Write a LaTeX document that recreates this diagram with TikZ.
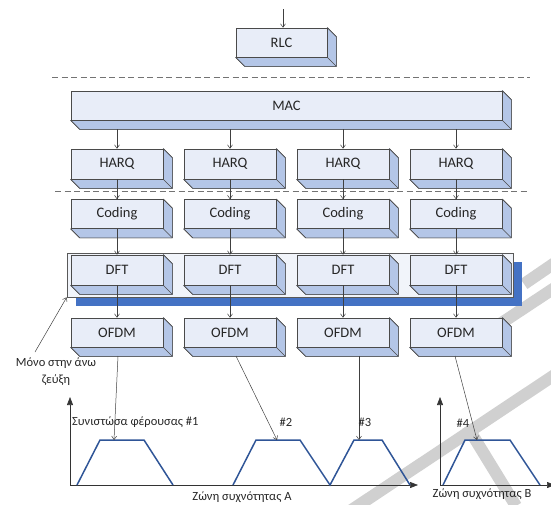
\documentclass[tikz,border=0pt]{standalone}
\usepackage{fontspec}
\setmainfont{Carlito}
\usetikzlibrary{calc,arrows.meta}

\definecolor{faceblue}{HTML}{E8EDF8}
\definecolor{sideblue}{HTML}{B4C6E7}
\definecolor{edgegrey}{HTML}{4A4A4A}
\definecolor{barblue}{HTML}{4472C4}
\definecolor{specblue}{HTML}{2F5597}
\definecolor{panelfill}{HTML}{F1F4FA}
\definecolor{markgrey}{HTML}{D0D0D0}

\tikzset{
  layerbox/.style={draw=edgegrey, fill=faceblue, line width=0.6pt,
    minimum width=92pt, minimum height=30pt, inner sep=0pt,
    font=\fontsize{14.5}{17}\selectfont, text=black!85},
  bevel/.style={draw=edgegrey, fill=sideblue, line width=0.6pt, line join=round},
  conn/.style={draw=black!75, line width=0.5pt,
    -{Straight Barb[length=3.5pt,width=5pt,line width=0.5pt]}},
  sepline/.style={draw=black!55, line width=0.9pt, dash pattern=on 6pt off 3.5pt},
  axis/.style={draw=black!80, line width=0.6pt, -{Triangle[length=8pt,width=6pt]}},
  spectrum/.style={draw=specblue, line width=1.5pt, line join=miter},
  lbl/.style={font=\fontsize{12.5}{15}\selectfont, text=black!85, inner sep=0pt},
  markstroke/.style={draw=markgrey, line width=12pt, line cap=butt},
}

% raised box: front face node plus its side and bottom faces
\newcommand\raisedbox[5]{% name, centre, width, height, text
  \node[layerbox, minimum width=#3, minimum height=#4] (#1) at #2 {#5};
  \fill[bevel] (#1.north east) -- ++(9,9) -- ($(#1.south east)+(9,9)$)
     -- (#1.south east) -- cycle;
  \fill[bevel] (#1.south west) -- ++(9,9) -- ($(#1.south east)+(9,9)$)
     -- (#1.south east) -- cycle;
  \draw[bevel] (#1.north east) -- ++(9,9) -- ($(#1.south east)+(9,9)$)
     -- ($(#1.south west)+(9,9)$) -- (#1.south west);
  \draw[bevel] (#1.south east) -- ++(9,9);
  \node[layerbox, minimum width=#3, minimum height=#4] at #2 {#5};
  \coordinate (#1-b) at ($(#1.south)+(0,9)$);
}

\begin{document}
\begin{tikzpicture}[x=1pt,y=-1pt]
\useasboundingbox (0,0) rectangle (551,504);

% ---- grey background marks ----
\begin{scope}
  \clip (0,0) rectangle (551,504);
  \draw[markstroke] (350,511) -- (562,370);
  \draw[markstroke] (500,324) -- (562,283);
  \draw[markstroke] (467,426) -- (516,506);
  \draw[markstroke] (524,284) -- (562,258);
\end{scope}

% ---- protocol stack ----
\raisedbox{rlc}{(281.5,42.5)}{91pt}{29pt}{RLC}
\draw[sepline] (52,77) -- (530,77);
\raisedbox{mac}{(286.5,105.5)}{431pt}{29pt}{MAC}

\foreach \i/\x in {1/117,2/230,3/343,4/456}{
  \raisedbox{h\i}{(\x,164)}{92pt}{30pt}{HARQ}
  \raisedbox{c\i}{(\x,214)}{92pt}{29pt}{Coding}
}
\draw[sepline] (55,191) -- (528,191);

% DFT panel with its blue shadow
\fill[barblue] (76,262) rectangle (522,306);
\node[draw=black!65, fill=panelfill, line width=0.6pt, minimum width=446pt,
  minimum height=44pt, inner sep=0pt] (panel) at (290,275) {};

\foreach \i/\x in {1/117,2/230,3/343,4/456}{
  \raisedbox{d\i}{(\x,270)}{92pt}{30pt}{DFT}
  \raisedbox{o\i}{(\x,332.5)}{92pt}{29pt}{OFDM}
}

% vertical flow through the stack
\coordinate (top-in) at (283,9);
\draw[conn] (top-in) -- (top-in |- rlc.north);
\foreach \i in {1,2,3,4}{
  \draw[conn] (h\i.north |- mac-b) -- (h\i.north);
  \draw[conn] (h\i.south) -- (c\i.north);
  \draw[conn] (c\i.south) -- (d\i.north);
  \draw[conn] (d\i.south) -- (o\i.north);
}

% ---- spectrum ----
\coordinate (oA) at (70,485);
\coordinate (oAy) at (70,397);
\coordinate (oAx) at (418,485);
\coordinate (oB) at (440,485);
\coordinate (oBy) at (440,397);
\coordinate (oBx) at (555,485);
\draw[axis] (oA) -- (oAy);
\draw[axis] (oA) -- (oAx);
\draw[axis] (oB) -- (oBy);
\draw[axis] (oB) -- (oBx);

\draw[spectrum] (77,485) -- (100,440) -- (144,440) -- (173,485);
\draw[spectrum] (233,485) -- (256,440) -- (300,440) -- (330,485)
                -- (354,440) -- (382,440) -- (410,485);
\draw[spectrum] (443,485) -- (465,440) -- (510,440) -- (540,485);

\coordinate (t1) at (114,440);
\coordinate (t2) at (277,440);
\coordinate (t3) at (359,440);
\coordinate (t4) at (477,440);
\coordinate (s1) at (118,356);
\coordinate (s2) at (236,356);
\coordinate (s3) at (359,356);
\coordinate (s4) at (455,356);
\foreach \i in {1,2,3,4}{ \draw[conn] (s\i) -- (t\i); }

\node[lbl, anchor=west] (cc1) at (72,422) {Συνιστώσα φέρουσας \#1};
\node[lbl] (cc2) at (286,422) {\#2};
\node[lbl] (cc3) at (365,422) {\#3};
\node[lbl] (cc4) at (463,423) {\#4};
\node[lbl] (bandA) at (242,497) {Ζώνη συχνότητας Α};
\node[lbl] (bandB) at (482,494) {Ζώνη συχνότητας Β};

% uplink-only note
\node[lbl, align=center] (note) at (56,372) {Μόνο στην άνω\\[2pt]ζεύξη};
\coordinate (note-tip) at (35,352);
\draw[conn] (note-tip) -- (panel.south west);
\end{tikzpicture}
\end{document}
